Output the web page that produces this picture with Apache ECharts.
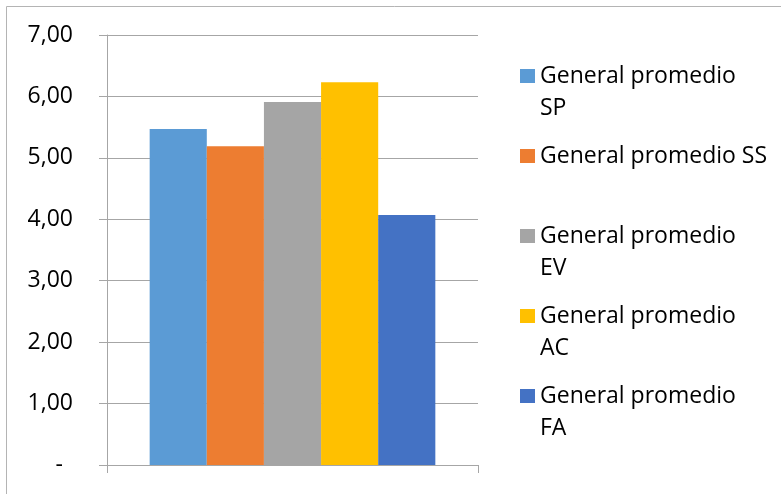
<!DOCTYPE html>
<html>
<head>
<meta charset="utf-8">
<script src="https://cdn.jsdelivr.net/npm/echarts@6/dist/echarts.min.js"></script>
<style>
html,body{margin:0;padding:0;background:#fff;}
#chart{width:781px;height:494px;}
</style>
</head>
<body>
<div id="chart"></div>
<script>
var categories = ['General promedio'];
var seriesNames = ['General promedio SP', 'General promedio SS', 'General promedio EV', 'General promedio AC', 'General promedio FA'];
var values = [5.47, 5.19, 5.91, 6.23, 4.07];
var colors = ['#5B9BD5', '#ED7D31', '#A5A5A5', '#FFC000', '#4472C4'];
var legendLabels = {
  'General promedio SP': ['General promedio', 'SP'],
  'General promedio SS': ['General promedio SS', ' '],
  'General promedio EV': ['General promedio', 'EV'],
  'General promedio AC': ['General promedio', 'AC'],
  'General promedio FA': ['General promedio', 'FA']
};
var yTicks = { min: 0, max: 7, interval: 1 };

var chart = echarts.init(document.getElementById('chart'));
var axisGray = '#a6a6a6';
var option = {
  animation: false,
  color: colors,
  textStyle: { fontFamily: 'Open Sans' },
  graphic: [{
    type: 'rect',
    shape: { x: 6.5, y: 6.5, width: 2000, height: 2000 },
    style: { fill: 'none', stroke: '#b4b4b4', lineWidth: 1 },
    silent: true
  }],
  grid: { left: 107, right: 303, top: 35, bottom: 29 },
  legend: {
    orient: 'vertical',
    left: 520,
    top: 28,
    padding: 0,
    itemWidth: 15,
    itemHeight: 14,
    itemGap: -16,
    icon: 'rect',
    data: seriesNames,
    formatter: function (name) {
      var l = legendLabels[name];
      return ' \n' + l[0] + '\n' + l[1];
    },
    textStyle: { fontFamily: 'Open Sans', fontSize: 23, color: '#000', lineHeight: 32 }
  },
  xAxis: {
    type: 'category',
    data: categories,
    axisLine: { show: true, lineStyle: { color: axisGray, width: 1 } },
    axisTick: { show: true, length: 8, alignWithLabel: false, lineStyle: { color: axisGray } },
    axisLabel: { show: false },
    splitLine: { show: false }
  },
  yAxis: {
    type: 'value',
    min: yTicks.min,
    max: yTicks.max,
    interval: yTicks.interval,
    axisLine: { show: true, lineStyle: { color: axisGray, width: 1 } },
    axisTick: { show: true, length: 8, inside: false, lineStyle: { color: axisGray } },
    splitLine: { show: true, lineStyle: { color: axisGray, width: 1 } },
    axisLabel: {
      margin: 34,
      fontFamily: 'Open Sans',
      fontSize: 23,
      color: '#000',
      formatter: function (v) {
        if (v === 0) return '{d|-}';
        return v.toFixed(2).replace('.', ',');
      },
      rich: { d: { fontFamily: 'Open Sans', fontSize: 23, color: '#000', padding: [0, 10, 0, 0] } }
    }
  },
  series: seriesNames.map(function (n, i) {
    return {
      name: n,
      type: 'bar',
      barGap: '0%',
      barCategoryGap: '23%',
      data: [values[i]],
      itemStyle: { color: colors[i] }
    };
  })
};
chart.setOption(option);
</script>
</body>
</html>
